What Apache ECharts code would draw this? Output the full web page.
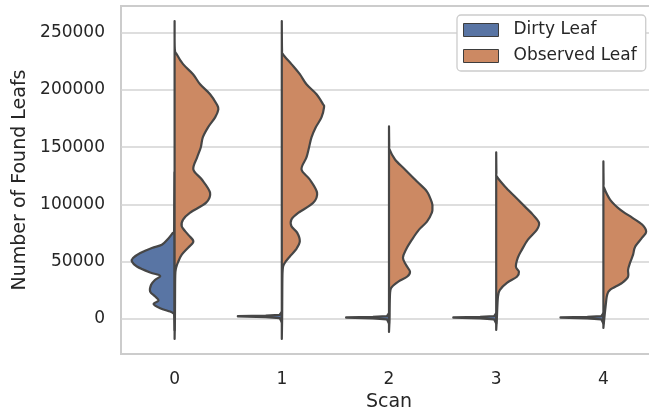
<!DOCTYPE html>
<html>
<head>
<meta charset="utf-8">
<script src="https://cdn.jsdelivr.net/npm/echarts@6/dist/echarts.min.js"></script>
<style>html,body{margin:0;padding:0;background:#fff}#c{width:649px;height:415px}</style>
</head>
<body>
<div id="c"></div>
<script>
// Categories (scan index) and tick labels
var categories = ['0', '1', '2', '3', '4'];
var yTicks = [0, 50000, 100000, 150000, 200000, 250000];
var seriesNames = ['Dirty Leaf', 'Observed Leaf'];

// Violin half profiles: [value, half-width in category units]
var dirty0 = [[128000,0],[100000,0.003],[76500,0.005],[75100,0.017],[70000,0.06],[64800,0.119],[62000,0.212],[57600,0.32],[53200,0.388],[50200,0.398],[45800,0.352],[40600,0.228],[37700,0.135],[34200,0.181],[29800,0.219],[23900,0.228],[19500,0.181],[16000,0.15],[13100,0.196],[9400,0.135],[6400,0.042],[5000,0.014],[3000,0.004],[-10000,0]];
var dirty1 = [[6000,0],[3600,0.02],[2900,0.15],[2500,0.41],[2100,0.41],[1500,0.15],[700,0.02],[-3000,0]];
var dirty2 = [[5000,0],[2500,0.02],[1800,0.15],[1400,0.40],[1000,0.40],[400,0.15],[-400,0.02],[-4000,0]];
var dirty3 = [[5000,0],[2500,0.02],[1800,0.15],[1400,0.40],[1000,0.40],[400,0.15],[-400,0.02],[-4000,0]];
var dirty4 = [[5000,0],[2500,0.02],[1800,0.15],[1400,0.40],[1000,0.40],[400,0.15],[-400,0.02],[-4000,0]];

var obs0 = [[260300,0],[236000,0.002],[231300,0.02],[222600,0.079],[213800,0.172],[205000,0.238],[196300,0.331],[187500,0.393],[183100,0.408],[176100,0.378],[167400,0.312],[158600,0.263],[149800,0.244],[141100,0.21],[130600,0.175],[121800,0.254],[110200,0.331],[101600,0.294],[92900,0.145],[86800,0.079],[80900,0.067],[73600,0.126],[67700,0.175],[62200,0.126],[56100,0.067],[50200,0.035],[44700,0.014],[38000,0.006],[15000,0.004],[0,0.003],[-17500,0]];
var obs1 = [[260300,0],[236000,0.002],[231300,0.01],[222600,0.09],[213800,0.168],[205000,0.23],[196300,0.324],[187500,0.385],[184900,0.394],[176100,0.37],[167400,0.317],[158600,0.277],[149800,0.254],[141100,0.23],[130600,0.184],[121800,0.261],[110200,0.329],[101400,0.293],[92600,0.153],[86800,0.09],[80900,0.09],[75400,0.143],[67700,0.168],[60500,0.131],[54600,0.075],[50200,0.037],[45800,0.012],[38000,0.006],[15000,0.004],[0,0.003],[-17500,0]];
var obs2 = [[168200,0],[152000,0.002],[148100,0.005],[139300,0.056],[130600,0.149],[120000,0.261],[111300,0.354],[101600,0.40],[97000,0.405],[92900,0.40],[85000,0.354],[78000,0.28],[69200,0.214],[60500,0.158],[53500,0.13],[47300,0.158],[41200,0.196],[36800,0.168],[32400,0.084],[28000,0.028],[22800,0.01],[0,0.005],[-11400,0]];
var obs3 = [[145500,0],[128000,0.002],[124500,0.005],[115700,0.081],[106900,0.174],[98100,0.268],[91100,0.342],[84100,0.399],[78000,0.38],[69200,0.296],[60500,0.24],[53500,0.202],[45600,0.184],[41200,0.212],[36800,0.193],[31500,0.10],[25400,0.035],[19300,0.016],[0,0.006],[-9600,0]];
var obs4 = [[137600,0],[118000,0.002],[114800,0.005],[104300,0.062],[95500,0.156],[88500,0.268],[82400,0.361],[76200,0.399],[71000,0.361],[63100,0.296],[56100,0.277],[49100,0.249],[42900,0.23],[36800,0.23],[31500,0.175],[25400,0.062],[21000,0.035],[14900,0.025],[0,0.008],[-7900,0]];

var dirtyProfiles = [dirty0, dirty1, dirty2, dirty3, dirty4];
var obsProfiles = [obs0, obs1, obs2, obs3, obs4];
var dirtySmooth = [true, false, false, false, false];

var BLUE = '#5975a4', ORANGE = '#cc8963', EDGE = '#464646', TEXT = '#262626', GRIDC = '#d3d3d3';
var FONT = 'DejaVu Sans';

function buildPath(pts, smooth) {
  var d = 'M' + pts[0][0].toFixed(2) + ',' + pts[0][1].toFixed(2);
  for (var i = 0; i < pts.length - 1; i++) {
    var p1 = pts[i], p2 = pts[i + 1];
    if (!smooth) { d += 'L' + p2[0].toFixed(2) + ',' + p2[1].toFixed(2); continue; }
    var p0 = pts[i - 1] || p1, p3 = pts[i + 2] || p2;
    var c1x = p1[0] + (p2[0] - p0[0]) / 6, c1y = p1[1] + (p2[1] - p0[1]) / 6;
    var c2x = p2[0] - (p3[0] - p1[0]) / 6, c2y = p2[1] - (p3[1] - p1[1]) / 6;
    d += 'C' + c1x.toFixed(2) + ',' + c1y.toFixed(2) + ' ' + c2x.toFixed(2) + ',' + c2y.toFixed(2) + ' ' + p2[0].toFixed(2) + ',' + p2[1].toFixed(2);
  }
  return d + 'Z';
}

function makeRender(profiles, side, color, smoothFlags) {
  return function (params, api) {
    var idx = api.value(0);
    var prof = profiles[idx];
    var band = api.size([1, 0])[0];
    var cx = api.coord([idx, 0])[0];
    var pts = prof.map(function (p) {
      return [cx + side * p[1] * band, api.coord([idx, p[0]])[1]];
    });
    pts[0][0] = cx; pts[pts.length - 1][0] = cx;
    var smooth = smoothFlags ? smoothFlags[idx] : true;
    return {
      type: 'path',
      shape: { pathData: buildPath(pts, smooth) },
      style: { fill: color, stroke: EDGE, lineWidth: 2.2, lineJoin: 'round' }
    };
  };
}

var catData = categories.map(function (c, i) { return [i, 0]; });

var chart = echarts.init(document.getElementById('c'), null, { renderer: 'canvas' });
chart.setOption({
  animation: false,
  backgroundColor: '#ffffff',
  textStyle: { fontFamily: FONT, color: TEXT },
  grid: { left: 121, top: 6, width: 536, height: 348, show: true, borderColor: '#cccccc', borderWidth: 2, containLabel: false, outerBoundsMode: 'none' },
  legend: {
    orient: 'vertical', left: 457, top: 15,
    data: [
      { name: seriesNames[0], itemStyle: { color: BLUE, borderColor: '#3d3d3d', borderWidth: 1 } },
      { name: seriesNames[1], itemStyle: { color: ORANGE, borderColor: '#3d3d3d', borderWidth: 1 } }
    ],
    icon: 'rect', itemWidth: 35, itemHeight: 13, itemGap: 6,
    padding: [5, 9, 5, 6],
    backgroundColor: '#ffffff', borderColor: '#cccccc', borderWidth: 1.3, borderRadius: 4,
    textStyle: { fontFamily: FONT, fontSize: 17, color: TEXT, lineHeight: 20, padding: [0, 0, 0, 10] }
  },
  xAxis: {
    type: 'category', data: categories, boundaryGap: true,
    name: 'Scan', nameLocation: 'middle', nameGap: 39,
    nameTextStyle: { fontFamily: FONT, fontSize: 19, color: TEXT },
    axisLine: { show: false }, axisTick: { show: false },
    axisLabel: { fontFamily: FONT, fontSize: 17, color: TEXT, margin: 17 },
    splitLine: { show: false }
  },
  yAxis: {
    type: 'value', min: -30670, max: 273400,
    name: 'Number of Found Leafs', nameLocation: 'middle', nameGap: 85,
    nameTextStyle: { fontFamily: FONT, fontSize: 19, color: TEXT },
    axisLine: { show: false },
    axisTick: { show: false, customValues: yTicks },
    axisLabel: { fontFamily: FONT, fontSize: 17, color: TEXT, margin: 16, customValues: yTicks,
      formatter: function (v) { return String(Math.round(v)); } },
    splitLine: { show: true, lineStyle: { color: GRIDC, width: 1.5 } }
  },
  series: [
    {
      name: seriesNames[0], type: 'custom', data: catData, encode: { x: 0, y: 1 },
      itemStyle: { color: BLUE }, z: 3,
      renderItem: makeRender(dirtyProfiles, -1, BLUE, dirtySmooth)
    },
    {
      name: seriesNames[1], type: 'custom', data: catData, encode: { x: 0, y: 1 },
      itemStyle: { color: ORANGE }, z: 3,
      renderItem: makeRender(obsProfiles, 1, ORANGE, null)
    }
  ]
});
</script>
</body>
</html>
